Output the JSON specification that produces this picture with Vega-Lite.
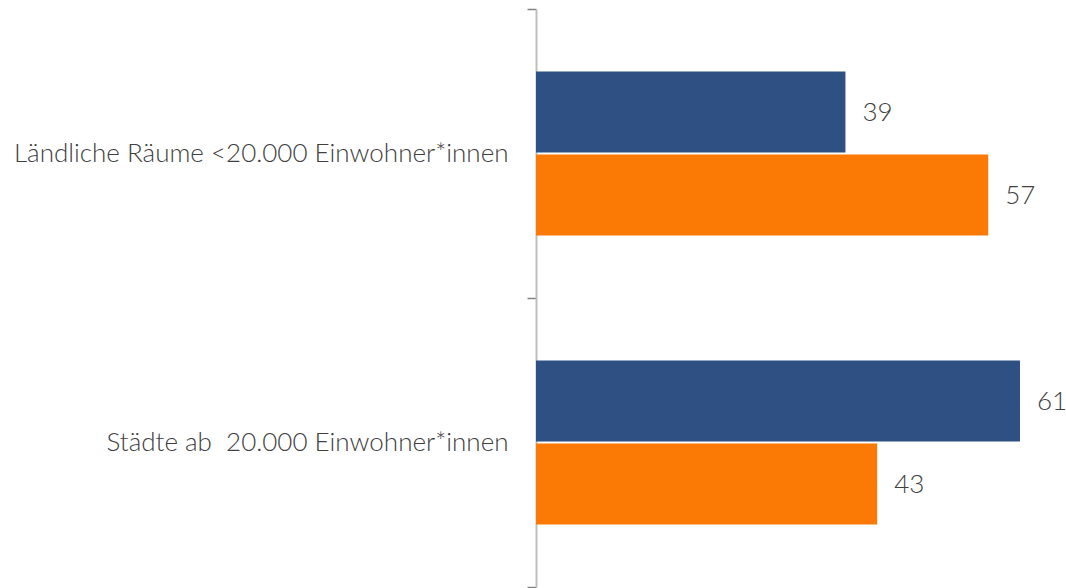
{
  "$schema": "https://vega.github.io/schema/vega-lite/v6.json",
  "width": 530,
  "height": 578,
  "autosize": {"type": "none"},
  "padding": {"left": 536, "top": 9, "right": 0, "bottom": 1},
  "background": "white",
  "config": {"view": {"stroke": null}, "font": "Lato Light, Lato"},
  "data": {
    "values": [
      {"region": "Ländliche Räume <20.000 Einwohner*innen", "serie": "A", "value": 39},
      {"region": "Ländliche Räume <20.000 Einwohner*innen", "serie": "B", "value": 57},
      {"region": "Städte ab \u00a020.000 Einwohner*innen", "serie": "A", "value": 61},
      {"region": "Städte ab \u00a020.000 Einwohner*innen", "serie": "B", "value": 43}
    ]
  },
  "encoding": {
    "y": {
      "field": "region", "type": "nominal", "sort": null,
      "scale": {"paddingInner": 0, "paddingOuter": 0},
      "axis": {
        "title": null, "domainColor": "#bfbfbf", "domainWidth": 2,
        "tickColor": "#808080", "tickSize": 9, "tickWidth": 1.5, "tickBand": "extent",
        "labelFont": "Lato Light, Lato", "labelFontWeight": 300, "labelFontSize": 26,
        "labelColor": "#404040", "labelPadding": 19, "labelLimit": 600
      }
    },
    "yOffset": {
      "field": "serie", "type": "nominal",
      "scale": {"paddingInner": 0.024, "paddingOuter": 0.753}
    },
    "x": {
      "field": "value", "type": "quantitative",
      "scale": {"domain": [0, 66.8], "nice": false},
      "axis": null
    }
  },
  "layer": [
    {
      "mark": {"type": "bar"},
      "encoding": {
        "color": {
          "field": "serie", "type": "nominal",
          "scale": {"domain": ["A", "B"], "range": ["#2f5083", "#fa7a05"]},
          "legend": null
        }
      }
    },
    {
      "mark": {"type": "text", "align": "left", "baseline": "middle", "dx": 17, "dy": 1, "font": "Lato Light, Lato", "fontWeight": 300, "fontSize": 26, "color": "#404040"},
      "encoding": {"text": {"field": "value", "type": "quantitative"}}
    }
  ]
}
